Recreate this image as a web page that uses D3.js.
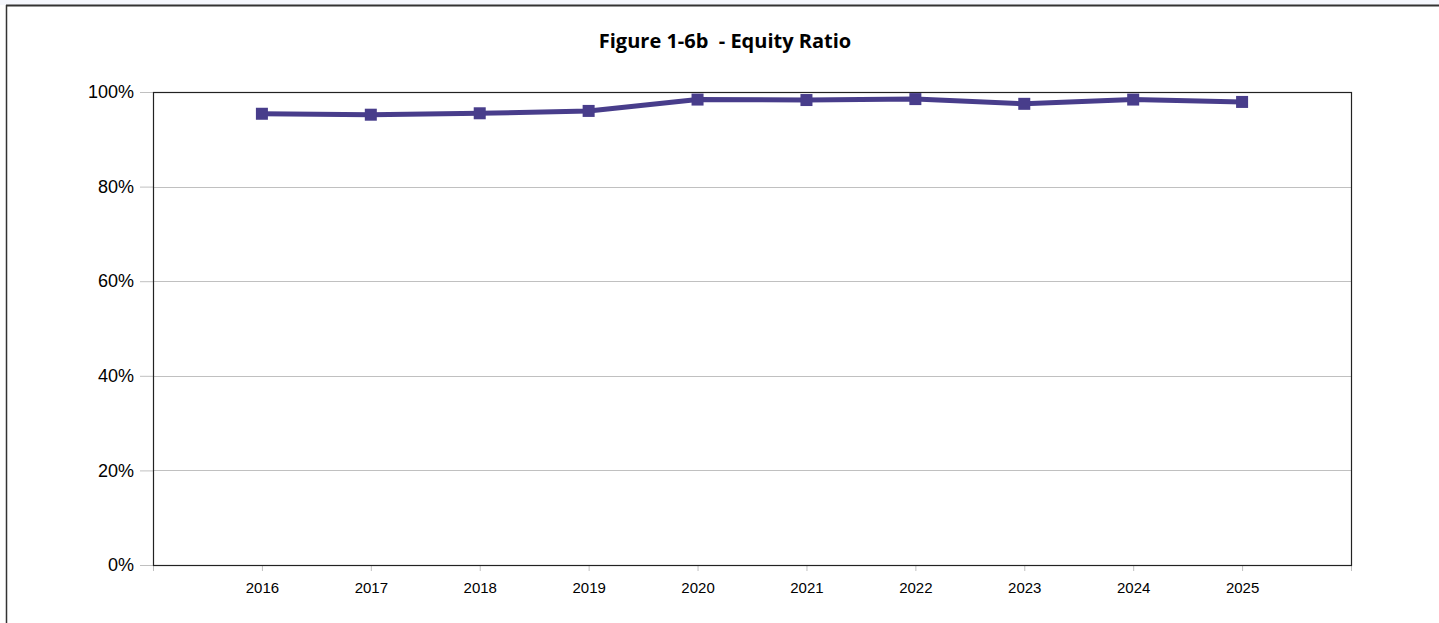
<!DOCTYPE html>
<html>
<head>
<meta charset="utf-8">
<script src="https://cdn.jsdelivr.net/npm/d3@7.9.0/dist/d3.min.js"></script>
<style>
  html, body { margin: 0; padding: 0; background: #fff; }
  svg { display: block; }
</style>
</head>
<body>
<div id="chart"></div>
<script>
// Chart data
const years = ['2016', '2017', '2018', '2019', '2020', '2021', '2022', '2023', '2024', '2025'];
const equityRatio = [0.954, 0.952, 0.955, 0.960, 0.984, 0.983, 0.985, 0.975, 0.984, 0.979];
const yTicks = [0, 0.2, 0.4, 0.6, 0.8, 1.0];
const title = 'Figure 1-6b  - Equity Ratio';

const width = 1439;
const height = 623;

const plot = { left: 153, right: 1351, top: 92, bottom: 565 };

const svg = d3.select('#chart')
  .append('svg')
  .attr('width', width)
  .attr('height', height);

// page frame bits
svg.append('rect').attr('x', 0).attr('y', 0).attr('width', width).attr('height', 5).attr('fill', '#f5f7fd');
svg.append('line').attr('x1', 6).attr('x2', width).attr('y1', 5.5).attr('y2', 5.5)
  .attr('stroke', '#333').attr('stroke-width', 2);
svg.append('line').attr('x1', 6.5).attr('x2', 6.5).attr('y1', 5).attr('y2', height)
  .attr('stroke', '#333').attr('stroke-width', 1.5);

// title (keep the double space)
svg.append('text')
  .attr('x', 725)
  .attr('y', 48)
  .attr('text-anchor', 'middle')
  .style('white-space', 'pre')
  .attr('xml:space', 'preserve')
  .attr('font-family', '"Open Sans", "Noto Sans", sans-serif')
  .attr('font-weight', 'bold')
  .attr('font-size', 20)
  .attr('fill', '#000')
  .text(title);

// scales: categories sit on 1..10 of an 11-step range
const xScale = d3.scaleLinear()
  .domain([0, years.length + 1])
  .range([plot.left, plot.right]);

const yScale = d3.scaleLinear()
  .domain([0, 1])
  .range([plot.bottom, plot.top]);

// gridlines
svg.append('g')
  .selectAll('line')
  .data(yTicks.filter((d) => d > 0 && d < 1))
  .join('line')
  .attr('x1', plot.left)
  .attr('x2', plot.right)
  .attr('y1', (d) => Math.round(yScale(d)) + 0.5)
  .attr('y2', (d) => Math.round(yScale(d)) + 0.5)
  .attr('stroke', '#c0c0c0')
  .attr('stroke-width', 1);

// y axis
const yAxis = svg.append('g')
  .attr('transform', `translate(${plot.left}, 0)`)
  .call(d3.axisLeft(yScale).tickValues(yTicks).tickFormat(d3.format('.0%')).tickSize(13).tickPadding(6));
yAxis.select('.domain').remove();
yAxis.selectAll('line').attr('stroke', '#c0c0c0');
yAxis.selectAll('text')
  .attr('font-family', '"Liberation Sans", Arial, sans-serif')
  .attr('font-size', 18)
  .attr('fill', '#000');

// x axis
const xTickVals = d3.range(0, years.length + 2);
const xAxis = svg.append('g')
  .attr('transform', `translate(0, ${plot.bottom})`)
  .call(d3.axisBottom(xScale)
    .tickValues(xTickVals)
    .tickFormat((d) => years[d - 1] || '')
    .tickSize(6)
    .tickPadding(11));
xAxis.select('.domain').remove();
xAxis.selectAll('line').attr('stroke', '#c0c0c0');
xAxis.selectAll('text')
  .attr('font-family', '"Liberation Sans", Arial, sans-serif')
  .attr('font-size', 15)
  .attr('fill', '#000');

// plot border
svg.append('rect')
  .attr('x', plot.left + 0.5)
  .attr('y', plot.top + 0.5)
  .attr('width', plot.right - plot.left)
  .attr('height', plot.bottom - plot.top)
  .attr('fill', 'none')
  .attr('stroke', '#222')
  .attr('stroke-width', 1.2);

// series line
const color = '#483d8b';
const line = d3.line()
  .x((d, i) => xScale(i + 1))
  .y((d) => yScale(d));

svg.append('path')
  .datum(equityRatio)
  .attr('d', line)
  .attr('fill', 'none')
  .attr('stroke', color)
  .attr('stroke-width', 5)
  .attr('stroke-linejoin', 'round');

// markers
const size = 12;
svg.append('g')
  .selectAll('rect')
  .data(equityRatio)
  .join('rect')
  .attr('x', (d, i) => xScale(i + 1) - size / 2)
  .attr('y', (d) => yScale(d) - size / 2)
  .attr('width', size)
  .attr('height', size)
  .attr('fill', color);
</script>
</body>
</html>
